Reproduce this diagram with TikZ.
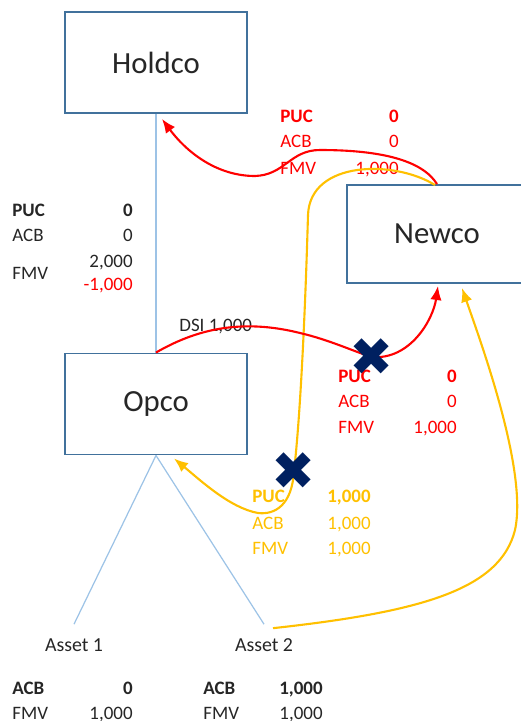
\documentclass[tikz,border=0pt]{standalone}
\usepackage{fontspec}
\setmainfont{Carlito}
\newfontfamily\symbolfont{DejaVu Sans}
\usetikzlibrary{arrows.meta,calc}

\definecolor{boxblue}{RGB}{65,113,156}
\definecolor{linkblue}{RGB}{157,195,230}
\definecolor{flowred}{RGB}{255,0,0}
\definecolor{flowgold}{RGB}{255,192,0}
\definecolor{cutnavy}{RGB}{0,32,96}

\tikzset{
  entity/.style={draw=boxblue,line width=1.1pt,fill=white,minimum width=3.64cm,minimum height=2.02cm,font=\fontsize{17.5}{20}\selectfont,text=black!85},
  tlab/.style={anchor=west,inner sep=0pt,text height=6.9pt,text depth=0pt,font=\fontsize{10.8}{13}\selectfont,text=black!85},
  tval/.style={tlab,anchor=east},
  assetlbl/.style={inner xsep=0pt,inner ysep=8pt,text height=7.3pt,text depth=0pt,font=\fontsize{11.3}{13}\selectfont,text=black!85},
  linkline/.style={draw=linkblue,line width=0.7pt},
  flowr/.style={draw=flowred,line width=1.2pt,-{Latex[length=8pt,width=6.5pt]}},
  flowy/.style={draw=flowgold,line width=1.2pt,-{Latex[length=8pt,width=6.5pt]}},
  cutmark/.style={inner sep=0pt,text=cutnavy,font=\symbolfont\fontsize{30}{30}\selectfont}
}

\begin{document}
\begin{tikzpicture}[x=0.02cm,y=-0.02cm,>=Latex]
\useasboundingbox (0,0) rectangle (521,721);

% companies
\node[entity] (holdco) at (156,62.5) {Holdco};
\node[entity] (opco) at (156,404) {Opco};
\node[entity,minimum width=3.6cm,minimum height=1.96cm] (newco) at (437,234) {Newco};
\node[assetlbl] (asset1) at (74,645) {Asset 1};
\node[assetlbl] (asset2) at (264,645) {Asset 2};

% Opco shares held by Holdco
\node[tlab,font=\fontsize{10.8}{13}\selectfont\bfseries] (op_puc) at (12,210) {PUC};
\node[tval,font=\fontsize{10.8}{13}\selectfont\bfseries] (op_puc_v) at (133,210) {0};
\node[tlab] (op_acb) at (12,235) {ACB};
\node[tval] (op_acb_v) at (133,235) {0};
\node[tlab] (op_fmv) at (12,273) {FMV};
\node[tval] (op_fmv_v) at (133,261) {2,000};
\node[tval,text=flowred] (op_fmv_d) at (133,284) {-1,000};

% Newco shares held by Holdco
\node[tlab,text=flowred,font=\fontsize{10.8}{13}\selectfont\bfseries] (nh_puc) at (280,116) {PUC};
\node[tval,text=flowred,font=\fontsize{10.8}{13}\selectfont\bfseries] (nh_puc_v) at (399,116) {0};
\node[tlab,text=flowred] (nh_acb) at (280,141) {ACB};
\node[tval,text=flowred] (nh_acb_v) at (399,141) {0};
\node[tlab,text=flowred] (nh_fmv) at (280,168) {FMV};
\node[tval,text=flowred] (nh_fmv_v) at (399,168) {1,000};

% Newco shares held by Opco
\node[tlab,text=flowred,font=\fontsize{10.8}{13}\selectfont\bfseries] (no_puc) at (338,376) {PUC};
\node[tval,text=flowred,font=\fontsize{10.8}{13}\selectfont\bfseries] (no_puc_v) at (457,376) {0};
\node[tlab,text=flowred] (no_acb) at (338,401) {ACB};
\node[tval,text=flowred] (no_acb_v) at (457,401) {0};
\node[tlab,text=flowred] (no_fmv) at (338,427) {FMV};
\node[tval,text=flowred] (no_fmv_v) at (457,427) {1,000};

% Opco shares held by Newco
\node[tlab,text=flowgold,font=\fontsize{10.8}{13}\selectfont\bfseries] (on_puc) at (252,496) {PUC};
\node[tval,text=flowgold,font=\fontsize{10.8}{13}\selectfont\bfseries] (on_puc_v) at (371,496) {1,000};
\node[tlab,text=flowgold] (on_acb) at (252,523) {ACB};
\node[tval,text=flowgold] (on_acb_v) at (371,523) {1,000};
\node[tlab,text=flowgold] (on_fmv) at (252,548) {FMV};
\node[tval,text=flowgold] (on_fmv_v) at (371,548) {1,000};

% assets
\node[tlab,font=\fontsize{10.8}{13}\selectfont\bfseries] (a1_acb) at (12,688) {ACB};
\node[tval,font=\fontsize{10.8}{13}\selectfont\bfseries] (a1_acb_v) at (133,688) {0};
\node[tlab] (a1_fmv) at (12,713) {FMV};
\node[tval] (a1_fmv_v) at (133,713) {1,000};
\node[tlab,font=\fontsize{10.8}{13}\selectfont\bfseries] (a2_acb) at (203,688) {ACB};
\node[tval,font=\fontsize{10.8}{13}\selectfont\bfseries] (a2_acb_v) at (323,688) {1,000};
\node[tlab] (a2_fmv) at (203,713) {FMV};
\node[tval] (a2_fmv_v) at (323,713) {1,000};

\node[tlab] (dsi) at (179,325) {DSI 1,000};

% ownership lines
\draw[linkline] (holdco.south) -- (opco.north);
\draw[linkline] (opco.south) -- (asset1.north);
\draw[linkline] (opco.south) -- (asset2.north);

% transfers
\coordinate (cut_dsi) at (372,357);
\coordinate (cut_sub) at (294,471);
\draw[flowr] (newco.north) .. controls (422,160) and (380,150) .. (320,150) .. controls (290,150) and (285,175) .. (255,176) .. controls (215,176) and (185,150) .. ($(holdco.south)+(6,5)$);
\draw[flowy] ($(newco.north)+(-2,1)$) .. controls (395,160) and (310,160) .. (308,215) .. controls (305,320) and (300,420) .. (cut_sub) .. controls (292,505) and (275,515) .. (258,513) .. controls (230,508) and (200,480) .. ($(opco.south)+(18,3)$);
\draw[flowr] (opco.north) .. controls (195,330) and (240,318) .. (300,333) .. controls (330,340) and (355,352) .. (cut_dsi) .. controls (410,360) and (433,320) .. ($(newco.south)+(1,2)$);
\draw[flowy] ($(asset2.north)+(9,4)$) .. controls (420,612) and (500,590) .. (515,530) .. controls (528,470) and (480,340) .. ($(newco.south)+(25,4)$);

% blocked transfers
\node[cutmark] (x_dsi) at (cut_dsi) {✖};
\node[cutmark] (x_sub) at (cut_sub) {✖};
\end{tikzpicture}
\end{document}
